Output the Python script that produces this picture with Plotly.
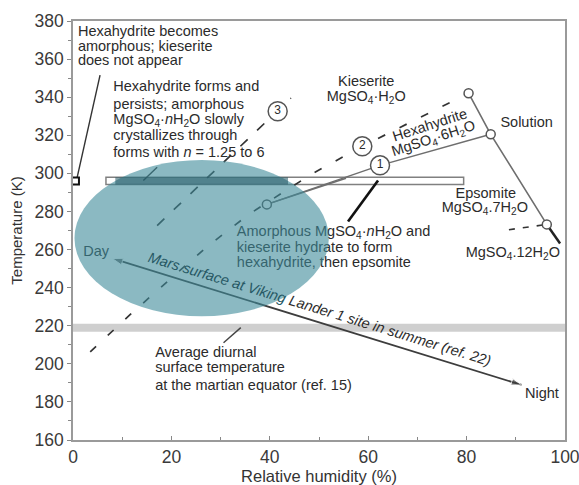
import numpy as np
import plotly.graph_objects as go

# ---------------- data ----------------
# kieserite / hexahydrite boundary (dashed, path 2)
kie_rh = [3.5, 11.6, 19.4, 27.3, 35.7, 48.4, 58.8, 76.9, 80.4]
kie_t = [206.3, 225.8, 243.7, 261.6, 278.4, 299.5, 314.2, 337.9, 342.1]
# path 3 (dashed)
p3_rh = [17.1, 44.3]
p3_t = [272.6, 339.5]
# deliquescence / solution curve
sol_rh = [80.4, 84.9, 96.3]
sol_t = [342.1, 320.5, 273.2]
tail_rh = [96.3, 99.0]
tail_t = [273.2, 263.2]
# epsomite / 12-hydrate boundary (dashed)
eps_rh = [88.6, 96.3]
eps_t = [270.4, 273.2]
# path 1 (solid) from amorphous point
p1_rh = [39.4, 62.4, 84.9]
p1_t = [283.7, 304.2, 320.5]
p1b_rh = [39.4, 55.5]
p1b_t = [283.7, 297.4]
# numbered circles
num_rh = [62.4, 58.8, 41.6]
num_t = [304.2, 314.2, 332.6]
num_lbl = ["1", "2", "3"]
# open points
pt_rh = [80.4, 84.9, 96.3, 39.4]
pt_t = [342.1, 320.5, 273.2, 283.7]
# square marker on y axis
sq_rh = [0.5]
sq_t = [296.0]
# Viking lander day -> night
day_rh, day_t = 8.0, 255.3
night_rh, night_t = 91.2, 188.9
# experiment bar
bar_rh = [6.7, 79.4]
bar_t = [294.2, 298.0]
# average diurnal band
band_t = [216.8, 221.1]
# Mars surface envelope (ellipse)
ell_rh = [0.3, 52.0]
ell_t = [225.0, 307.0]
# leader lines
lead1_rh, lead1_t = [0.8, 5.5], [297.4, 351.6]
lead2_rh, lead2_t = [14.3, 17.1], [296.3, 303.2]
lead3_rh, lead3_t = [30.6, 34.1], [211.1, 219.0]
lead4_rh, lead4_t = [62.0, 55.9], [296.3, 274.7]

# text blocks (left aligned)
note1_lines = ["Hexahydrite becomes", "amorphous; kieserite", "does not appear"]
note1_rh = 1.0
note1_t = [374.2, 366.3, 358.9]
note2_lines = ["Hexahydrite forms and", "persists; amorphous",
               "MgSO<sub>4</sub>·<i>n</i>H<sub>2</sub>O slowly",
               "crystallizes through", "forms with <i>n</i> = 1.25 to 6"]
note2_rh = 8.2
note2_t = [345.3, 335.8, 327.9, 319.5, 310.5]
note3_lines = ["Amorphous MgSO<sub>4</sub>·<i>n</i>H<sub>2</sub>O and",
               "kieserite hydrate to form", "hexahydrite, then epsomite"]
note3_rh = 33.3
note3_t = [268.9, 260.8, 252.6]
note4_lines = ["Average diurnal", "surface temperature",
               "at the martian equator (ref. 15)"]
note4_rh = 16.7
note4_t = [205.3, 197.4, 188.4]
# centred labels
lab_text = ["Kieserite", "MgSO<sub>4</sub>·H<sub>2</sub>O", "Solution", "Epsomite",
            "MgSO<sub>4</sub>.7H<sub>2</sub>O", "MgSO<sub>4</sub>.12H<sub>2</sub>O",
            "Day", "Night"]
lab_rh = [59.6, 59.6, 92.2, 83.9, 83.7, 89.4, 4.7, 95.3]
lab_t = [347.9, 340.0, 326.3, 289.0, 281.6, 257.9, 258.4, 184.2]

x_ticks = [0, 20, 40, 60, 80, 100]
y_ticks = list(range(160, 381, 20))

FONT = "Liberation Sans, Arial, sans-serif"
TXT = "#2b2b2b"
DASH = "#333333"
LINE = "#6e6e6e"

fig = go.Figure()


def line(x, y, color=LINE, width=1.5, dash="solid"):
    fig.add_trace(go.Scatter(x=x, y=y, mode="lines",
                             line=dict(color=color, width=width, dash=dash),
                             hoverinfo="skip", showlegend=False, cliponaxis=False))


def texts(x, y, t, pos, size=14.5, color=TXT):
    fig.add_trace(go.Scatter(x=x, y=y, text=t, mode="text", textposition=pos,
                             textfont=dict(family=FONT, size=size, color=color),
                             hoverinfo="skip", showlegend=False, cliponaxis=False))


# boundaries
line(kie_rh, kie_t, color=DASH, width=1.7, dash="8px,16px")
line(p3_rh, p3_t, color=DASH, width=1.7, dash="10px,13px")
line(eps_rh, eps_t, color=DASH, width=1.6, dash="6px,8px")
line(sol_rh, sol_t, color=LINE, width=1.6)
line(tail_rh, tail_t, color="#222222", width=2.5)
line(p1_rh, p1_t, color=LINE, width=1.5)
line(p1b_rh, p1b_t, color=LINE, width=1.5)

# leaders
line(lead1_rh, lead1_t, color="#333333", width=1.4)
line(lead2_rh, lead2_t, color="#333333", width=1.4)
line(lead3_rh, lead3_t, color="#444444", width=1.4)
line(lead4_rh, lead4_t, color="#111111", width=2.6)

# day/night arrow
ARC = "#3d3d3d"
fig.add_trace(go.Scatter(x=[night_rh, day_rh], y=[night_t, day_t], mode="lines+markers",
                         line=dict(color=ARC, width=1.8),
                         marker=dict(symbol="arrow", size=[0, 11], color=ARC, angleref="previous"),
                         hoverinfo="skip", showlegend=False, cliponaxis=False))
fig.add_trace(go.Scatter(x=[day_rh, night_rh], y=[day_t, night_t], mode="markers",
                         marker=dict(symbol="arrow", size=[0, 11], color=ARC, angleref="previous"),
                         hoverinfo="skip", showlegend=False, cliponaxis=False))

# open points
fig.add_trace(go.Scatter(x=pt_rh, y=pt_t, mode="markers",
                         marker=dict(symbol="circle", size=9, color="white",
                                     line=dict(color="#555555", width=1.5)),
                         hoverinfo="skip", showlegend=False, cliponaxis=False))
fig.add_trace(go.Scatter(x=sq_rh, y=sq_t, mode="markers",
                         marker=dict(symbol="square", size=7, color="white",
                                     line=dict(color="#111111", width=2)),
                         hoverinfo="skip", showlegend=False, cliponaxis=False))
# numbered circles
fig.add_trace(go.Scatter(x=num_rh, y=num_t, mode="markers+text", text=num_lbl,
                         textposition="middle center",
                         textfont=dict(family=FONT, size=12, color=TXT),
                         marker=dict(symbol="circle", size=19, color="white",
                                     line=dict(color="#555555", width=1.5)),
                         hoverinfo="skip", showlegend=False, cliponaxis=False))

# text blocks
texts([note1_rh] * len(note1_lines), note1_t, note1_lines, "middle right")
texts([note2_rh] * len(note2_lines), note2_t, note2_lines, "middle right")
texts([note3_rh] * len(note3_lines), note3_t, note3_lines, "middle right")
texts([note4_rh] * len(note4_lines), note4_t, note4_lines, "middle right")
texts(lab_rh, lab_t, lab_text, "middle center")

# ---- shapes ----
shapes = []
shapes.append(dict(type="rect", xref="x", yref="y", x0=0, x1=100, y0=band_t[0], y1=band_t[1],
                   fillcolor="#cfcfcf", line=dict(width=0), layer="below"))
shapes.append(dict(type="rect", xref="x", yref="y", x0=bar_rh[0], x1=bar_rh[1],
                   y0=bar_t[0], y1=bar_t[1], fillcolor="white",
                   line=dict(color="#808080", width=1.5), layer="below"))
shapes.append(dict(type="circle", xref="x", yref="y", x0=ell_rh[0], x1=ell_rh[1],
                   y0=ell_t[0], y1=ell_t[1], fillcolor="rgb(62,138,154)", opacity=0.6,
                   line=dict(width=0), layer="above"))
# darker part of bar inside ellipse
cx, cy = np.mean(ell_rh), np.mean(ell_t)
a, b = (ell_rh[1] - ell_rh[0]) / 2, (ell_t[1] - ell_t[0]) / 2
ym = np.mean(bar_t)
half = a * np.sqrt(max(0.0, 1 - ((ym - cy) / b) ** 2))
shapes.append(dict(type="rect", xref="x", yref="y", x0=max(bar_rh[0], cx - half),
                   x1=min(bar_rh[1], cx + half), y0=bar_t[0], y1=bar_t[1],
                   fillcolor="rgba(35,85,98,0.55)", line=dict(width=0), layer="above"))

# ---- rotated annotations ----
TEAL_TXT = "rgb(38,88,100)"
annotations = [
    dict(x=72.4, y=325.6, xref="x", yref="y", text="Hexahydrite", showarrow=False,
         textangle=-18, font=dict(family=FONT, size=14.5, color=TXT)),
    dict(x=73.3, y=318.2, xref="x", yref="y",
         text="MgSO<sub>4</sub>·6H<sub>2</sub>O", showarrow=False,
         textangle=-18, font=dict(family=FONT, size=14.5, color=TXT)),
    dict(x=50.2, y=229.0, xref="x", yref="y",
         text=("<i><span style='color:%s'>Mars surface at Viking</span>"
               " Lander 1 site in summer (ref. 22)</i>") % TEAL_TXT,
         showarrow=False, textangle=17, font=dict(family=FONT, size=14.5, color=TXT)),
]

fig.update_layout(
    width=579, height=485,
    margin=dict(l=73, r=14, t=21, b=45),
    paper_bgcolor="white", plot_bgcolor="white",
    font=dict(family=FONT, color="#333333"),
    shapes=shapes, annotations=annotations, showlegend=False,
)
fig.update_xaxes(range=[0, 100], tickvals=x_ticks, ticks="inside", ticklen=4,
                 tickcolor="#888888", showline=True, linecolor="#9a9a9a", linewidth=1.5,
                 mirror=True, showgrid=False, zeroline=False, automargin=False,
                 ticklabeloverflow="allow",
                 minor=dict(dtick=10, ticks="inside", ticklen=3, tickcolor="#888888"),
                 tickfont=dict(family=FONT, size=17.5, color="#3a3a3a"),
                 title=dict(text="Relative humidity (%)", standoff=6,
                            font=dict(family=FONT, size=16.5, color="#333333")))
fig.update_yaxes(range=[160, 380], tickvals=y_ticks, ticks="outside", ticklen=4,
                 tickcolor="#888888", showline=True, linecolor="#9a9a9a", linewidth=1.5,
                 mirror=True, showgrid=False, zeroline=False, automargin=False,
                 ticklabeloverflow="allow",
                 minor=dict(dtick=10, ticks="outside", ticklen=3, tickcolor="#888888"),
                 tickfont=dict(family=FONT, size=17.5, color="#3a3a3a"),
                 title=dict(text="Temperature (K)", standoff=8,
                            font=dict(family=FONT, size=15, color="#333333")))

fig.write_html("out.html", config={"displayModeBar": False},
               post_script="document.body.style.margin='0';document.body.style.padding='0';")
